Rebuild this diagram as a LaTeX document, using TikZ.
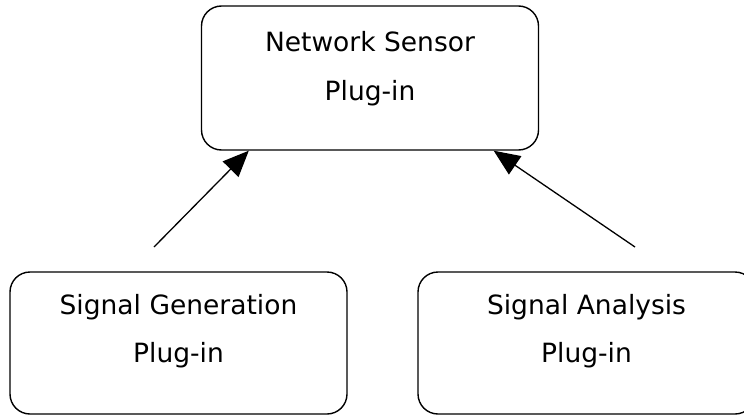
\documentclass[tikz,border=0pt]{standalone}
\usepackage{fontspec}
\setmainfont{DejaVu Sans}
\usetikzlibrary{arrows.meta,calc}
\begin{document}
\begin{tikzpicture}[x=1pt,y=-1pt,
  box/.style={draw,line width=1.4pt,rounded corners=20pt,minimum width=337pt,inner sep=0pt},
  lbl/.style={align=center,inner sep=0pt,anchor=north,font=\fontsize{26.5pt}{48pt}\selectfont},
  link/.style={line width=1.3pt,-{Triangle[length=26pt,width=22pt]}}]
\useasboundingbox (0,0) rectangle (744,415);
\fill[white] (0,0) rectangle (744,415);
\clip (0,0) rectangle (744,415);

% plug-in boxes
\node[box,minimum height=144pt] (sensor) at (370,78) {};
\node[box,minimum height=142pt] (gen) at (178.5,343) {};
\node[box,minimum height=142pt] (ana) at (586.5,343) {};

% box captions
\node[lbl,font=\fontsize{26.5pt}{49.5pt}\selectfont] (sensortext) at ($(sensor.north)+(0,25.5)$) {Network Sensor\\Plug-in};
\node[lbl] (gentext) at ($(gen.north)+(0,23)$) {Signal Generation\\Plug-in};
\node[lbl] (anatext) at ($(ana.north)+(0,23)$) {Signal Analysis\\Plug-in};

% dependency arrows
\coordinate (gtail) at (154,247);
\coordinate (atail) at (635,247);
\draw[link] (gtail) -- ($(sensor.south west)+(48,0)$);
\draw[link] (atail) -- ($(sensor.south east)+(-45.5,0)$);
\end{tikzpicture}
\end{document}
